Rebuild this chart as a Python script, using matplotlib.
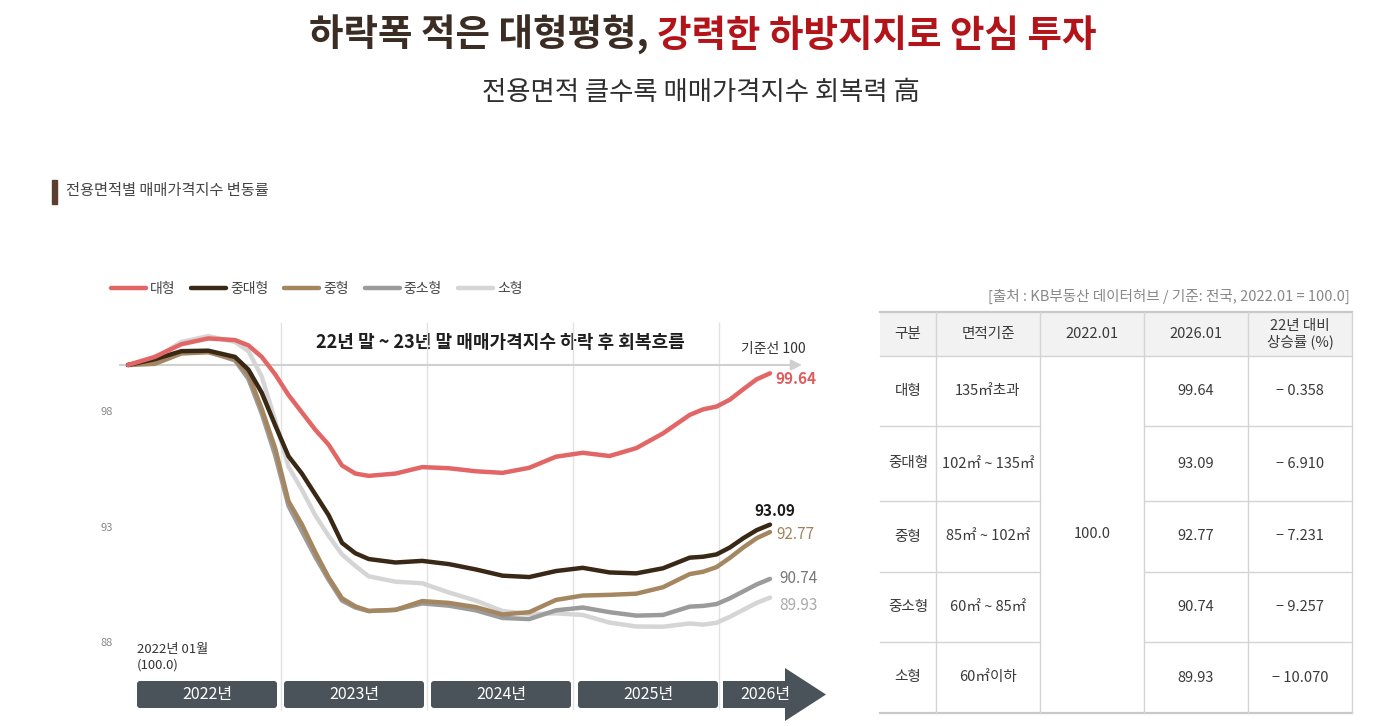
import numpy as np
import matplotlib
matplotlib.use("Agg")
import matplotlib.pyplot as plt
from matplotlib.patches import FancyBboxPatch, Polygon, Rectangle

plt.rcParams['font.family'] = ['Noto Sans CJK KR', 'DejaVu Sans']

# 데이터 (2022.01 = 100, 월 인덱스 0 = 2022.01, 48 = 2026.01)
months = [0, 2, 4, 6, 8, 9, 10, 11, 12, 13, 14, 15, 16, 17, 18, 20, 22, 24, 26, 28,
          30, 32, 34, 36, 38, 40, 42, 43, 44, 45, 46, 47, 48]
large = [100, 100.35, 100.9, 101.15, 101.08, 100.85, 100.35, 99.6, 98.7, 97.95, 97.2, 96.55,
         95.65, 95.3, 95.2, 95.3, 95.58, 95.53, 95.4, 95.33, 95.55, 96.03, 96.2, 96.06,
         96.4, 97.04, 97.84, 98.08, 98.2, 98.5, 98.95, 99.38, 99.64]
mid_large = [100, 100.25, 100.6, 100.62, 100.35, 99.8, 98.8, 97.4, 96.05, 95.3, 94.4, 93.5,
             92.3, 91.85, 91.6, 91.45, 91.52, 91.38, 91.15, 90.88, 90.82, 91.08, 91.22, 91.02,
             90.98, 91.2, 91.66, 91.7, 91.8, 92.1, 92.5, 92.85, 93.09]
mid = [100, 100.05, 100.5, 100.55, 100.25, 99.6, 98.1, 96.4, 94.1, 93.1, 91.9, 90.8,
       89.9, 89.55, 89.35, 89.4, 89.78, 89.7, 89.52, 89.2, 89.3, 89.83, 90.02, 90.05,
       90.1, 90.38, 90.95, 91.05, 91.25, 91.65, 92.1, 92.5, 92.77]
mid_small = [100, 100.2, 100.55, 100.58, 100.2, 99.4, 97.9, 96.1, 93.9, 92.8, 91.7, 90.7,
             89.8, 89.5, 89.35, 89.4, 89.68, 89.58, 89.38, 89.05, 89.0, 89.38, 89.5, 89.3,
             89.15, 89.18, 89.54, 89.57, 89.65, 89.9, 90.2, 90.5, 90.74]
small = [100, 100.3, 101.0, 101.25, 101.0, 100.6, 99.5, 97.6, 95.6, 94.6, 93.5, 92.6,
         91.8, 91.3, 90.85, 90.62, 90.55, 90.15, 89.8, 89.35, 89.22, 89.25, 89.18, 88.85,
         88.68, 88.67, 88.81, 88.76, 88.84, 89.1, 89.4, 89.7, 89.93]

names = ['대형', '중대형', '중형', '중소형', '소형']
series = [large, mid_large, mid, mid_small, small]
colors = ['#e26666', '#3a2816', '#a48660', '#9b9b9b', '#d5d5d5']
label_colors = ['#e05c5c', '#1a1a1a', '#a0825f', '#777777', '#aaaaaa']
label_offsets = [(4, -4, 'left'), (3.5, 10, 'center'), (4.5, -1.7, 'left'),
                 (6.5, 0, 'left'), (6.5, -6, 'left')]

years = ['2022년', '2023년', '2024년', '2025년', '2026년']
year_grid = [11.44, 22.36, 33.27, 44.19]
yticks = [88, 93, 98]

areas = ['135㎡초과', '102㎡ ~ 135㎡', '85㎡ ~ 102㎡', '60㎡ ~ 85㎡', '60㎡이하']
base_val = '100.0'
end_vals = ['99.64', '93.09', '92.77', '90.74', '89.93']
changes = ['− 0.358', '− 6.910', '− 7.231', '− 9.257', '− 10.070']
headers = ['구분', '면적기준', '2022.01', '2026.01', '22년 대비\n상승률 (%)']

fig = plt.figure(figsize=(14, 7.26), dpi=100, facecolor='white')

# 픽셀 좌표 오버레이
ov = fig.add_axes([0, 0, 1, 1])
ov.set_xlim(0, 1400)
ov.set_ylim(726, 0)
ov.axis('off')
ov.set_facecolor('none')

# 제목: 두 부분을 이어서 가운데 정렬
t1 = ov.text(0, 35, '하락폭 적은 대형평형,', fontsize=27, fontweight='bold',
             color='#3b2d24', ha='left', va='center')
t2 = ov.text(0, 35, '강력한 하방지지로 안심 투자', fontsize=27, fontweight='bold',
             color='#b3141a', ha='left', va='center')
fig.canvas.draw()
r = fig.canvas.get_renderer()
w1 = t1.get_window_extent(r).width
w2 = t2.get_window_extent(r).width
gap = 8
x0 = 703 - (w1 + gap + w2) / 2
t1.set_x(x0)
t2.set_x(x0 + w1 + gap)

ov.text(701, 93, '전용면적 클수록 매매가격지수 회복력 高', fontsize=19,
        color='#2e2e2e', ha='center', va='center')

ov.add_patch(Rectangle((52, 180), 5, 24, color='#5a3e2e'))
ov.text(66, 191, '전용면적별 매매가격지수 변동률', fontsize=11, color='#444444',
        ha='left', va='center')

# 차트
ax = fig.add_axes([117 / 1400, 6 / 726, 723 / 1400, 480 / 726])
ax.set_facecolor('none')
ax.set_xlim(-0.8224, 53.234)
ax.set_ylim(84.632, 105.411)
for s in ax.spines.values():
    s.set_visible(False)
ax.set_xticks([])
ax.set_yticks(yticks)
ax.tick_params(axis='y', length=0, pad=3, labelsize=8, labelcolor='#888888')

ax.vlines(year_grid, 85.06, 101.86, color='#e2e2e2', lw=1, zorder=0)
ax.annotate('', xy=(50.6, 100), xytext=(-0.82, 100),
            arrowprops=dict(arrowstyle='-|>', color='#d0d0d0', lw=1.5,
                            mutation_scale=16), zorder=1)

for i in range(len(series) - 1, -1, -1):
    ax.plot(months, series[i], color=colors[i], lw=3.2, solid_capstyle='round',
            zorder=3 + (5 - i), label=names[i])
for i, vals in enumerate(series):
    dx, dy, ha = label_offsets[i]
    ax.annotate(f'{vals[-1]:.2f}', xy=(months[-1], vals[-1]), xytext=(dx, dy),
                textcoords='offset points', ha=ha, va='center', fontsize=11,
                color=label_colors[i], fontweight='bold' if i < 2 else 'normal')

handles, labels = ax.get_legend_handles_labels()
fig.legend(handles[::-1], labels[::-1], loc='center left',
           bbox_to_anchor=(111 / 1400, 1 - 289 / 726), ncol=5, frameon=False,
           fontsize=10, handlelength=2.5, handletextpad=0.3, columnspacing=1.15,
           borderpad=0, borderaxespad=0, labelcolor='#444444')

ov.text(500, 343, '22년 말 ~ 23년 말 매매가격지수 하락 후 회복흐름', fontsize=13,
        fontweight='bold', color='#1e1e1e', ha='center', va='center')
ov.text(773, 349, '기준선 100', fontsize=10, color='#333333', ha='center', va='center')
ov.text(137, 650, '2022년 01월', fontsize=9.5, color='#333333', ha='left', va='center')
ov.text(137, 665, '(100.0)', fontsize=9.5, color='#333333', ha='left', va='center')

# 연도 박스
box_x = [137, 284, 431, 578]
for bx, yl in zip(box_x, years[:4]):
    ov.add_patch(FancyBboxPatch((bx, 681), 140, 27,
                                boxstyle='round,pad=0,rounding_size=3',
                                fc='#4b535a', ec='none'))
    ov.text(bx + 70, 695, yl, fontsize=11.5, color='white', ha='center', va='center')
ov.add_patch(Rectangle((723, 681), 63, 27, fc='#4b535a', ec='none'))
ov.add_patch(Polygon([(785, 668), (826, 694.5), (785, 721)], closed=True,
                     fc='#4b535a', ec='none'))
ov.text(765, 695, years[4], fontsize=11.5, color='white', ha='center', va='center')

# 표
ov.text(1350, 296, '[출처 : KB부동산 데이터허브 / 기준: 전국, 2022.01 = 100.0]',
        fontsize=10.5, color='#888888', ha='right', va='center')
cols = [880, 936, 1040, 1144, 1248, 1352]
rows = [312, 356, 426, 501, 572, 642, 713]
lc = '#d4d4d4'
ov.add_patch(Rectangle((880, 312), 472, 44, fc='#f2f2f2', ec='none'))
ov.plot([880, 1352], [312, 312], color='#c8c8c8', lw=1.6)
ov.plot([880, 1352], [356, 356], color=lc, lw=1)
ov.plot([880, 1352], [713, 713], color='#c8c8c8', lw=1.6)
for yv in rows[2:-1]:
    ov.plot([880, 1040], [yv, yv], color=lc, lw=1)
    ov.plot([1144, 1352], [yv, yv], color=lc, lw=1)
for xv in cols[1:]:
    ov.plot([xv, xv], [312, 713], color=lc, lw=1)

tc = '#3a3a3a'
for j, h in enumerate(headers):
    ov.text((cols[j] + cols[j + 1]) / 2, 334, h, fontsize=10.5, color=tc,
            ha='center', va='center', linespacing=1.15)
for r_ in range(5):
    yc = (rows[r_ + 1] + rows[r_ + 2]) / 2
    ov.text(908, yc, names[r_], fontsize=10.5, color=tc, ha='center', va='center')
    ov.text(988, yc, areas[r_], fontsize=10.5, color=tc, ha='center', va='center')
    ov.text(1196, yc, end_vals[r_], fontsize=10.5, color=tc, ha='center', va='center')
    ov.text(1300, yc, changes[r_], fontsize=10.5, color=tc, ha='center', va='center')
ov.text(1092, (356 + 713) / 2, base_val, fontsize=10.5, color=tc, ha='center', va='center')

fig.savefig('out.png', dpi=100, facecolor='white')
